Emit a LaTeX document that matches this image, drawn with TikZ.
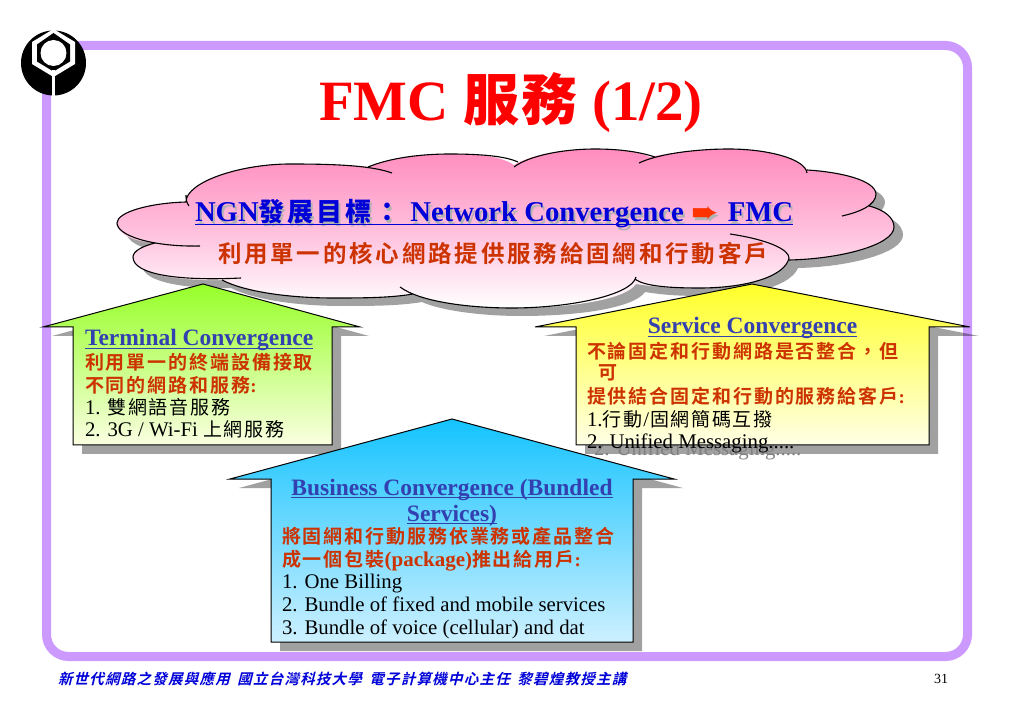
\documentclass[tikz,border=0pt]{standalone}
\usepackage{fontspec}
\setmainfont{Liberation Serif}
\newfontfamily\dv{DejaVu Sans}
\newfontfamily\cjkT[LetterSpace=5]{Noto Sans CJK TC Bold}
\newfontfamily\cjkH[LetterSpace=11]{Noto Sans CJK TC Bold}
\newfontfamily\cjkS[LetterSpace=12]{Noto Sans CJK TC Bold}
\newfontfamily\cjkR[LetterSpace=10]{Noto Sans CJK TC Bold}
\newfontfamily\cjkB[LetterSpace=9]{Noto Sans CJK TC}
\newfontfamily\cjkF[LetterSpace=8.5,FakeSlant=0.25]{Noto Sans CJK TC Bold}
\newcommand\fsz[1]{\fontsize{#1}{#1}\selectfont}
\newcommand\ulx[1]{\setbox0\hbox{#1}\rlap{\rule[-3.2pt]{\wd0}{1pt}}\box0}
\newcommand\HH{\fsz{23.5}\bfseries}
\newcommand\RR[1]{{\fsz{19}\cjkR #1}}
\newcommand\BB[1]{{\fsz{19}\cjkB #1}}
\definecolor{frameC}{HTML}{CC99FF}
\definecolor{redT}{HTML}{CC3300}
\definecolor{headT}{HTML}{3340B0}
\definecolor{cloudB}{HTML}{0000D8}
\definecolor{shad}{HTML}{000000}
\tikzset{
  x=1pt,y=-1pt,
  txt/.style={inner sep=0pt,outer sep=0pt,anchor=base west},
  ctr/.style={inner sep=0pt,outer sep=0pt,anchor=base},
  red/.style={txt,text=redT},
  blk/.style={txt,text=black,font=\fsz{20.8}},
  head/.style={ctr,text=headT,font=\HH},
  houseline/.style={draw=black,line width=1pt,line join=miter},
  shadowfill/.style={fill=shad,fill opacity=.37,draw=none},
}
% cloud outline
\newcommand\cloudpath{
 (186,202) .. controls (186,182) and (240,164) .. (290,164)
 .. controls (320,164) and (350,165) .. (368,167)
 .. controls (390,158) and (420,154) .. (450,154)
 .. controls (480,154) and (500,156) .. (514,165)
 .. controls (530,155) and (565,149) .. (595,149)
 .. controls (620,149) and (640,152) .. (650,157)
 .. controls (670,153) and (700,149) .. (729,149)
 .. controls (765,149) and (800,158) .. (807,170)
 .. controls (840,172) and (875,180) .. (876,194)
 .. controls (876,198) and (873,203) .. (869,206)
 .. controls (885,210) and (894,218) .. (894,227)
 .. controls (894,245) and (840,259) .. (789,260)
 .. controls (782,277) and (745,288) .. (700,288)
 .. controls (680,288) and (660,288) .. (636,284)
 .. controls (625,300) and (570,308) .. (512,308)
 .. controls (470,308) and (430,302) .. (413,294)
 .. controls (390,298) and (360,298) .. (333,298)
 .. controls (290,298) and (245,292) .. (222,280)
 .. controls (180,281) and (133,275) .. (133,257)
 .. controls (133,251) and (143,246) .. (155,243)
 .. controls (130,241) and (117,233) .. (117,223)
 .. controls (117,212) and (150,203) .. (186,202) -- cycle}
\newcommand\headtext[1]{NGN{\fsz{26}\cjkH 發展目標：}\hspace{3pt} Network Convergence \hspace{1pt}{#1\dv\fsz{33}\raisebox{-2pt}{➨}}\hspace{1pt} FMC}
\begin{document}
\begin{tikzpicture}
\useasboundingbox (0,0) rectangle (1023,708);
\fill[white] (0,0) rectangle (1023,708);
% frame
\draw[frameC,line width=9pt,rounded corners=22pt] (46.5,45.5) rectangle (967.5,656.5);
% logo
\fill[black] (53.5,63) circle (32.5);
\fill[white] (53.5,29) -- (75,42) -- (75,64) -- (53.5,77) -- (32,64) -- (32,42) -- cycle;
\fill[black] (53.5,33) -- (70,44.5) -- (70,61.5) -- (53.5,71.5) -- (37,61.5) -- (37,44.5) -- cycle;
\fill[white] (51.8,70) rectangle (55.2,96);
\fill[white] (53.5,53) circle (13);
% title
\node[ctr,text=red,font=\fsz{57}\bfseries] (title) at (511,121) {FMC {\fsz{56}\cjkT 服務} (1/2)};
% cloud
\fill[shad,opacity=.37,shift={(9,8)}] \cloudpath;
\shade[shading=axis,top color={rgb,255:red,255;green,140;blue,190},bottom color=white,middle color={rgb,255:red,255;green,190;blue,220}] \cloudpath;
\draw[black,line width=1.1pt]
 (186,202) .. controls (186,182) and (240,164) .. (290,164) .. controls (330,164) and (370,165) .. (392,173)
 (368,167) .. controls (390,158) and (420,154) .. (450,154) .. controls (480,154) and (505,156) .. (518,162)
 (514,167) .. controls (530,155) and (565,149) .. (595,149) .. controls (620,149) and (640,152) .. (655,157)
 (639,163) .. controls (660,153) and (700,149) .. (729,149) .. controls (765,149) and (805,158) .. (807,173)
 (807,170) .. controls (840,172) and (875,180) .. (876,194) .. controls (876,205) and (860,212) .. (842,216)
 (869,206) .. controls (885,210) and (894,218) .. (894,227) .. controls (894,245) and (840,259) .. (789,260)
 (730,234) .. controls (770,240) and (789,250) .. (789,258) .. controls (785,277) and (745,288) .. (700,288) .. controls (675,288) and (645,287) .. (635,279)
 (636,277) .. controls (632,295) and (570,308) .. (512,308) .. controls (470,308) and (420,302) .. (400,287)
 (413,294) .. controls (390,298) and (360,298) .. (333,298) .. controls (290,298) and (245,292) .. (222,280)
 (241,278) .. controls (180,281) and (133,275) .. (133,257) .. controls (133,251) and (143,246) .. (155,243)
 (200,246) .. controls (150,247) and (117,235) .. (117,223) .. controls (117,212) and (150,203) .. (186,202)
 (186,195) .. controls (186,198) and (186,202) .. (189,206);
% cloud heading
\node[txt,text=black!30,font=\fsz{28.7}\bfseries] (cloudheadS) at (197,224.5) {\headtext{}};
\node[txt,text=cloudB,font=\fsz{28.7}\bfseries] (cloudhead) at (195,222) {\ulx{\headtext{\color[HTML]{FF3300}}}};
\node[txt,text=redT] (cloudsub) at (218,263) {{\fsz{23.5}\cjkS 利用單一的核心網路提供服務給固網和行動客戶}};
% green house
\fill[shadowfill,shift={(9,9)}] (43,327) -- (203,284) -- (360,327) -- (332,327) -- (332,445) -- (73,445) -- (73,327) -- cycle;
\shade[top color={rgb,255:red,150;green,255;blue,40},bottom color={rgb,255:red,250;green,255;blue,225}] (43,327) -- (203,284) -- (360,327) -- (332,327) -- (332,445) -- (73,445) -- (73,327) -- cycle;
\draw[houseline] (43,327) -- (203,284) -- (360,327) -- (332,327) -- (332,445) -- (73,445) -- (73,327) -- cycle;
\node[txt,text=headT,font=\HH] (gh) at (85,346) {\ulx{Terminal Convergence}};
\node[red] (gr1) at (85,369.5) {\RR{利用單一的終端設備接取}};
\node[red] (gr2) at (85,393) {\RR{不同的網路和服務}{\fsz{19}\bfseries :}};
\node[blk] (gb1) at (85,415) {1. \BB{雙網語音服務}};
\node[blk] (gb2) at (85,437) {2. 3G / Wi-Fi \BB{上網服務}};
% yellow house
\fill[shadowfill,shift={(9,9)}] (535,327) -- (752,284) -- (970,327) -- (929,327) -- (929,445) -- (576,445) -- (576,327) -- cycle;
\node[txt,text=black!50,font=\fsz{20.8}] (ys) at (594,456) {2. Unified Messaging.....};
\shade[top color={rgb,255:red,255;green,255;blue,40},bottom color={rgb,255:red,255;green,255;blue,230}] (535,327) -- (752,284) -- (970,327) -- (929,327) -- (929,445) -- (576,445) -- (576,327) -- cycle;
\draw[houseline] (535,327) -- (752,284) -- (970,327) -- (929,327) -- (929,445) -- (576,445) -- (576,327) -- cycle;
\node[head] (yh) at (752.5,334) {\ulx{Service Convergence}};
\node[red] (yr1) at (587,358.5) {\RR{不論固定和行動網路是否整合，但}};
\node[red] (yr2) at (598,380) {\RR{可}};
\node[red] (yr3) at (587,404) {\RR{提供結合固定和行動的服務給客戶}{\fsz{19}\bfseries :}};
\node[blk] (yb1) at (587,426.5) {1.\BB{行動}\hspace{1pt}/\hspace{1pt}\BB{固網簡碼互撥}};
\node[blk] (yb2) at (587,449) {2. Unified Messaging.....};
% blue house
\fill[shadowfill,shift={(9,9)}] (230,479) -- (452,419) -- (674,479) -- (633,479) -- (633,642) -- (271,642) -- (271,479) -- cycle;
\shade[top color={rgb,255:red,20;green,195;blue,255},bottom color={rgb,255:red,205;green,240;blue,255}] (230,479) -- (452,419) -- (674,479) -- (633,479) -- (633,642) -- (271,642) -- (271,479) -- cycle;
\draw[houseline] (230,479) -- (452,419) -- (674,479) -- (633,479) -- (633,642) -- (271,642) -- (271,479) -- cycle;
\node[head] (bh1) at (452,495) {\ulx{Business Convergence (Bundled}};
\node[head] (bh2) at (452,521) {\ulx{Services)}};
\node[red] (br1) at (282,543) {\RR{將固網和行動服務依業務或產品整合}};
\node[red] (br2) at (282,566) {\RR{成一個包裝}{\fsz{21}\bfseries (package)}\RR{推出給用戶}{\fsz{19}\bfseries :}};
\node[blk] (bb1) at (282,588) {1. One Billing};
\node[blk] (bb2) at (282,611) {2. Bundle of fixed and mobile services};
\node[blk] (bb3) at (282,634) {3. Bundle of voice (cellular) and dat};
% footer
\node[txt,text=cloudB] (foot) at (58,684) {\fsz{14.5}\cjkF 新世代網路之發展與應用 \hspace{3pt}國立台灣科技大學 \hspace{3pt}電子計算機中心主任 \hspace{3pt}黎碧煌教授主講};
\node[txt,text=black,font=\fsz{14}] (page) at (934,683) {31};
\end{tikzpicture}
\end{document}
